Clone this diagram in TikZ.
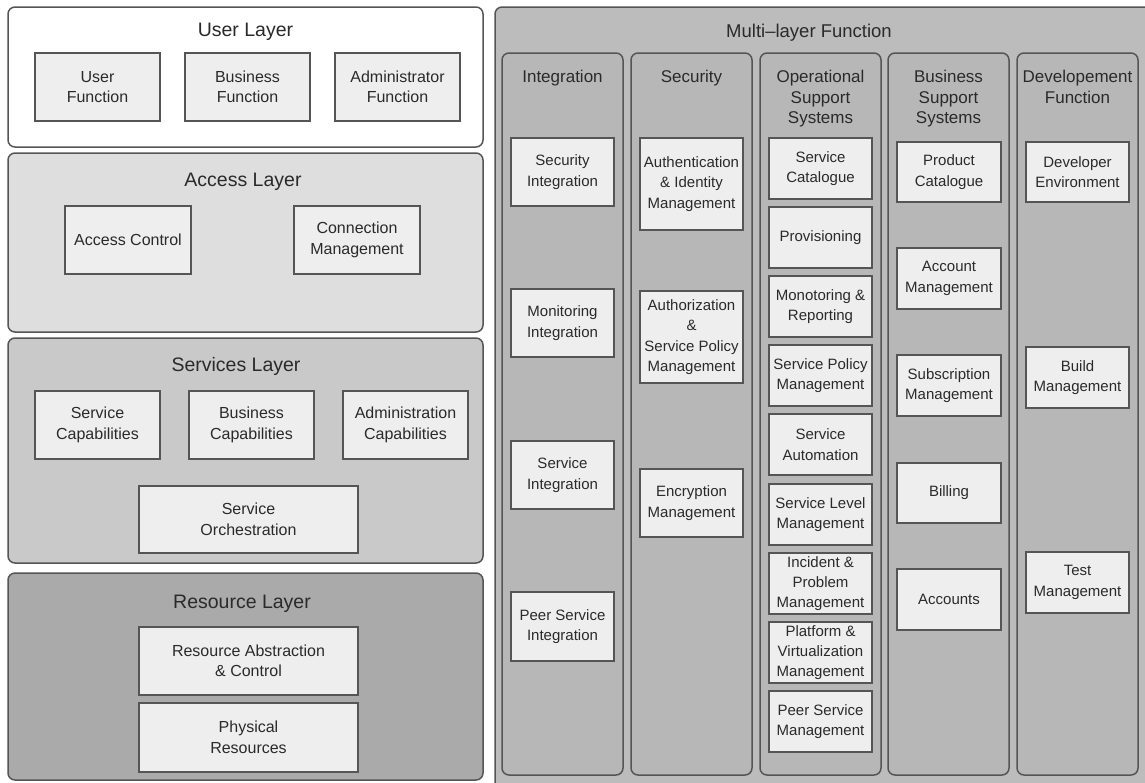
\documentclass[tikz,border=0pt]{standalone}
\usepackage{fontspec}
\setmainfont{Liberation Sans}
\definecolor{linec}{HTML}{555555}
\definecolor{txtc}{HTML}{2A2A2A}
\definecolor{boxfill}{HTML}{EEEEEE}
\definecolor{accfill}{HTML}{DEDEDE}
\definecolor{srvfill}{HTML}{C9C9C9}
\definecolor{resfill}{HTML}{AAAAAA}
\definecolor{mlfill}{HTML}{BCBCBC}
\definecolor{colfill}{HTML}{B7B7B7}
\newcommand\bx[7]{\node[#1,anchor=north west,minimum width=#5pt,minimum height=#6pt] (#2) at (#3,#4) {#7};}
\tikzset{
  layer/.style={draw=linec, line width=1.5pt, rounded corners=7pt, outer sep=0pt, inner sep=0pt},
  lbox/.style={draw=linec, fill=boxfill, line width=1.2pt, outer sep=0pt, inner sep=0pt, align=center, text=txtc, font=\fontsize{16}{20.5}\selectfont},
  rbox/.style={lbox, font=\fontsize{15}{20.3}\selectfont},
  ltitle/.style={text=txtc, font=\fontsize{19.5}{23}\selectfont, inner sep=0pt},
  ctitle/.style={text=txtc, font=\fontsize{17}{20.5}\selectfont, align=center, inner sep=0pt, anchor=north}
}
\begin{document}
\begin{tikzpicture}[x=1pt,y=-1pt]
\useasboundingbox (0,0) rectangle (1145,782);
\clip (0,0) rectangle (1145,782);
% ---------- left stack ----------
\bx{layer, fill=white}{user}{8}{7}{475}{140}{}
\node[ltitle] (usert) at (245.5,32) {User Layer};
\bx{lbox}{ufun}{35}{53}{125}{68}{User\\Function}
\bx{lbox}{bfun}{185}{53}{125}{68}{Business\\Function}
\bx{lbox}{afun}{335}{53}{125}{68}{Administrator\\Function}

\bx{layer, fill=accfill}{access}{8}{153}{475}{179}{}
\node[ltitle] (accesst) at (243,182) {Access Layer};
\bx{lbox}{actl}{65}{206}{126}{68}{Access Control}
\bx{lbox}{cmgt}{294}{206}{126}{68}{Connection\\Management}

\bx{layer, fill=srvfill}{services}{8}{338}{475}{225}{}
\node[ltitle] (servicest) at (236,366) {Services Layer};
\bx{lbox}{scap}{35}{391}{125}{68}{Service\\Capabilities}
\bx{lbox}{bcap}{189}{391}{125}{68}{Business\\Capabilities}
\bx{lbox}{acap}{343}{391}{125}{68}{Administration\\Capabilities}
\bx{lbox}{sorc}{139}{486}{219}{67}{Service\\Orchestration}

\bx{layer, fill=resfill}{resource}{8}{573}{475}{207}{}
\node[ltitle] (resourcet) at (242,604) {Resource Layer};
\bx{lbox}{rabs}{139}{627}{219}{68}{Resource Abstraction\\\& Control}
\bx{lbox}{phys}{139}{703}{219}{69}{Physical\\Resources}

% ---------- multi-layer ----------
\bx{layer, fill=mlfill}{multi}{495}{7}{670}{800}{}
\node[ltitle, font=\fontsize{18.5}{22}\selectfont] (multit) at (809,33) {Multi–layer Function};

\bx{layer, fill=colfill}{colint}{502}{53}{121}{722}{}
\bx{layer, fill=colfill}{colsec}{631}{53}{121}{722}{}
\bx{layer, fill=colfill}{coloss}{760}{53}{121}{722}{}
\bx{layer, fill=colfill}{colbss}{888}{53}{121}{722}{}
\bx{layer, fill=colfill}{coldev}{1017}{53}{121}{722}{}

\node[ctitle] (tint) at (562.5,70) {Integration};
\node[ctitle] (tsec) at (691.5,70) {Security};
\node[ctitle] (toss) at (820.5,70) {Operational\\Support\\Systems};
\node[ctitle] (tbss) at (948.5,70) {Business\\Support\\Systems};
\node[ctitle] (tdev) at (1077.5,70) {Developement\\Function};

% Integration
\bx{rbox}{sint}{511}{138}{103}{68}{Security\\Integration}
\bx{rbox}{mint}{511}{289}{103}{68}{Monitoring\\Integration}
\bx{rbox}{svint}{511}{441}{103}{68}{Service\\Integration}
\bx{rbox}{pint}{511}{592}{103}{69}{Peer Service\\Integration}

% Security
\bx{rbox}{auth}{640}{138}{103}{92}{Authentication\\\& Identity\\Management}
\bx{rbox}{authz}{640}{291}{103}{92}{Authorization\\\&\\Service Policy\\Management}
\bx{rbox}{encr}{640}{469}{103}{68}{Encryption\\Management}

% OSS
\bx{rbox}{scat}{769}{138}{103}{61}{Service\\Catalogue}
\bx{rbox}{prov}{769}{207}{103}{61}{Provisioning}
\bx{rbox}{monr}{769}{276}{103}{61}{Monotoring \&\\Reporting}
\bx{rbox}{spm}{769}{345}{103}{61}{Service Policy\\Management}
\bx{rbox}{sauto}{769}{414}{103}{61}{Service\\Automation}
\bx{rbox}{slm}{769}{484}{103}{61}{Service Level\\Management}
\bx{rbox}{ipm}{769}{553}{103}{61}{Incident \&\\Problem\\Management}
\bx{rbox}{pvm}{769}{622}{103}{61}{Platform \&\\Virtualization\\Management}
\bx{rbox}{psm}{769}{691}{103}{61}{Peer Service\\Management}

% BSS
\bx{rbox}{pcat}{897}{142}{104}{60}{Product\\Catalogue}
\bx{rbox}{amgt}{897}{248}{104}{61}{Account\\Management}
\bx{rbox}{submgt}{897}{355}{104}{61}{Subscription\\Management}
\bx{rbox}{bill}{897}{463}{104}{60}{Billing}
\bx{rbox}{accts}{897}{569}{104}{61}{Accounts}

% Development
\bx{rbox}{denv}{1026}{142}{103}{60}{Developer\\Environment}
\bx{rbox}{bmgt}{1026}{347}{103}{61}{Build\\Management}
\bx{rbox}{tmgt}{1026}{552}{103}{61}{Test\\Management}
\end{tikzpicture}
\end{document}
